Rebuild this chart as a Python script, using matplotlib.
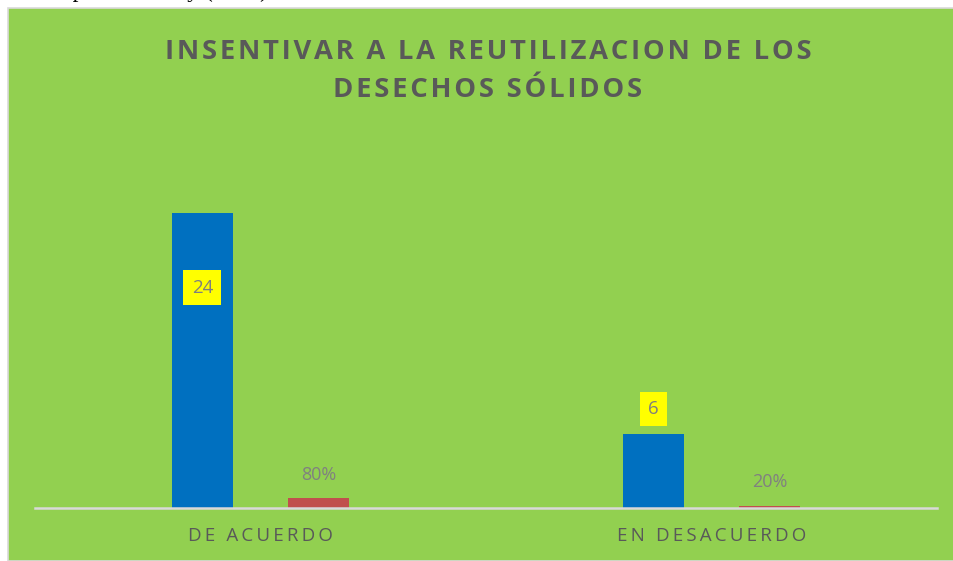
import matplotlib.pyplot as plt
from matplotlib.patches import Rectangle

categorias = ['DE ACUERDO', 'EN DESACUERDO']
frecuencia = [24, 6]
porcentaje = [0.80, 0.20]
titulo = 'INSENTIVAR A LA REUTILIZACION DE LOS\nDESECHOS SÓLIDOS'

verde = '#92d050'
azul = '#0070c0'
rojo = '#c0504d'
gris_txt = '#595959'


def espaciar(s, sep='\u200a'):
    # letter spacing like the Excel chart
    return '\n'.join(sep.join(list(line)) for line in s.split('\n'))


plt.rcParams['font.family'] = ['Open Sans', 'DejaVu Sans']

W, H = 954, 561
fig = plt.figure(figsize=(W / 100, H / 100), dpi=100)
fig.patch.set_facecolor('white')

# green chart area
fig.patches.append(Rectangle((8 / W, 0), 946 / W, 553 / H, transform=fig.transFigure,
                             facecolor=verde, edgecolor='#d9d9d9', linewidth=1.2, zorder=-5))

# cut-off caption line above the chart
fig.text(268 / W, 1 + 3 / H, 'Fuente: Elaborado por el autor y (2018)', ha='right', va='baseline',
         family='Liberation Serif', fontsize=17, color='black')

ax = fig.add_axes([35 / W, (H - 508) / H, 902 / W, (508 - 139) / H])
ax.set_facecolor('none')
ax.set_zorder(2)

x = list(range(len(categorias)))
bw = 0.135
off = 0.129
b1 = ax.bar([i - off for i in x], frecuencia, width=bw, color=azul, zorder=2)
b2 = ax.bar([i + off for i in x], porcentaje, width=bw, color=rojo, zorder=2)

ax.set_xlim(-0.5, 1.5)
ax.set_ylim(0, 30)

for s in ['top', 'left', 'right']:
    ax.spines[s].set_visible(False)
ax.spines['bottom'].set_color('#d9d9d9')
ax.spines['bottom'].set_linewidth(1.8)
ax.set_yticks([])
ax.set_xticks(x)
ax.set_xticklabels([espaciar(c, '\u2009') for c in categorias], color=gris_txt, fontsize=13.5)
ax.tick_params(axis='x', length=0, pad=14)

caja = dict(boxstyle='square,pad=0.45', facecolor='#ffff00', edgecolor='none')
# 24 sits inside the bar, 6 above it
ax.text(x[0] - off, frecuencia[0] - 6.1, str(frecuencia[0]), ha='center', va='center',
        fontsize=13.5, color='#7f7f7f', bbox=caja, zorder=3)
ax.text(x[1] - off, frecuencia[1] + 2.05, str(frecuencia[1]), ha='center', va='center',
        fontsize=13.5, color='#7f7f7f', bbox=caja, zorder=3)
for i, p in enumerate(porcentaje):
    ax.text(x[i] + off, p + 1.9, f'{p:.0%}', ha='center', va='center', fontsize=13, color='#808080')

fig.text(488 / W, 1 - 71 / H, espaciar(titulo, '\u200a'), ha='center', va='center', fontsize=19.7,
         fontweight='bold', color=gris_txt, linespacing=1.6)

fig.savefig('out.png', dpi=100)
